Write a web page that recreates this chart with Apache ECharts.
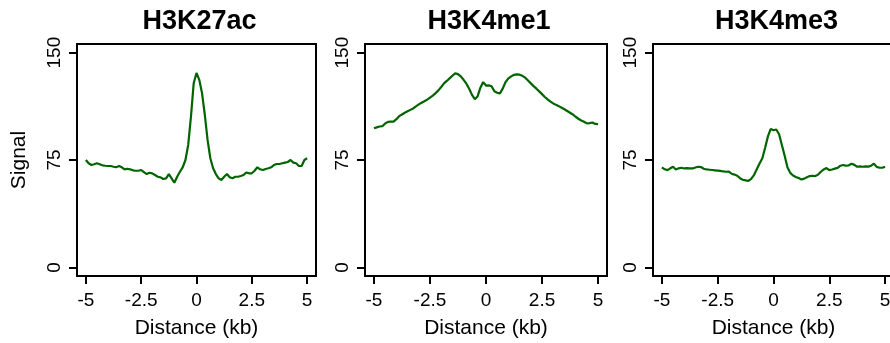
<!DOCTYPE html>
<html>
<head>
<meta charset="utf-8">
<script src="https://cdn.jsdelivr.net/npm/echarts@6/dist/echarts.min.js"></script>
<style>
  html, body { margin: 0; padding: 0; background: #fff; }
  #chart { width: 890px; height: 343px; }
</style>
</head>
<body>
<div id="chart"></div>
<script>
// distance from centre, kb
var distance = [
  -5, -4.875, -4.75, -4.625, -4.5, -4.375, -4.25, -4.125, -4, -3.875,
  -3.75, -3.625, -3.5, -3.375, -3.25, -3.125, -3, -2.875, -2.75, -2.625,
  -2.5, -2.375, -2.25, -2.125, -2, -1.875, -1.75, -1.625, -1.5, -1.375,
  -1.25, -1.125, -1, -0.875, -0.75, -0.625, -0.5, -0.375, -0.25, -0.125,
  0, 0.125, 0.25, 0.375, 0.5, 0.625, 0.75, 0.875, 1, 1.125,
  1.25, 1.375, 1.5, 1.625, 1.75, 1.875, 2, 2.125, 2.25, 2.375,
  2.5, 2.625, 2.75, 2.875, 3, 3.125, 3.25, 3.375, 3.5, 3.625,
  3.75, 3.875, 4, 4.125, 4.25, 4.375, 4.5, 4.625, 4.75, 4.875,
  5
];

var h3k27ac = [
  75, 72.7, 71.5, 72, 72.7, 72, 71.3, 71, 70.8, 70.8,
  70.3, 70, 70.8, 69.9, 68.5, 68.9, 68.5, 67.8, 67.5, 67.5,
  68, 66.6, 65.2, 66.1, 65.7, 64.5, 63.3, 62.9, 61.7, 62.2,
  65.2, 62.2, 59.1, 63.3, 66.8, 69.9, 75, 85.5, 105.4, 128.8,
  135.8, 131, 121.7, 106.6, 89, 76.2, 69.2, 65.2, 62.2, 61,
  63.3, 65.2, 62.9, 62.2, 63.3, 63.3, 63.8, 64.5, 66.3, 65.7,
  65.7, 67.5, 69.9, 68.5, 68, 68.7, 69.2, 69.9, 71.5, 72.2,
  72.2, 72.7, 73.2, 73.6, 75, 73.2, 72.7, 70.8, 70.8, 75,
  76.2
];

var h3k4me1 = [
  97.2, 97.8, 98.4, 98.6, 100.5, 101.6, 101.8, 101.8, 103.5, 105.6,
  106.8, 108, 109, 110, 111, 112.5, 113.8, 115, 116, 117.2,
  118.6, 120, 121.7, 123.6, 126, 128.5, 130.2, 132, 133.8, 135.5,
  135, 133.4, 131, 128.3, 124.8, 120.5, 117.5, 119.4, 125.5, 129.4,
  127, 127.1, 126.5, 123, 122, 121.5, 125, 129.5, 132, 133.4,
  134.5, 134.8, 134.6, 133.8, 132.5, 130.5, 128.5, 126.6, 124.8, 122.9,
  121, 119, 117.3, 115.8, 114.5, 113.5, 112.6, 111.5, 110.4, 109.2,
  108, 106.8, 105.2, 103.8, 102.6, 101.7, 100.6, 100.8, 101.2, 100.2,
  100
];

var h3k4me3 = [
  69.9, 68.5, 67.9, 69.2, 70.3, 68.4, 69.2, 69.6, 69.1, 69.3,
  69.2, 69.1, 69.8, 70.3, 70.1, 68.9, 68.4, 68.2, 68, 67.8,
  67.6, 67.4, 67, 66.8, 66.9, 65.4, 64.8, 64, 62.3, 61.2,
  60.8, 60.4, 61.8, 64.5, 68.5, 72.5, 76.2, 83.5, 91.5, 96.7,
  95.8, 96.3, 93, 85.5, 78, 70, 66, 64.2, 63.2, 62.4,
  61.4, 62, 63, 63.8, 64, 63.8, 64.8, 66.8, 68.4, 69.4,
  67.9, 68.4, 69, 69.5, 71, 71.5, 71, 71.3, 72.4, 71.6,
  70.3, 70.6, 70.3, 70.5, 70.4, 71, 72.4, 70.2, 69.6, 69.6,
  70.3
];

var panelTitles = ['H3K27ac', 'H3K4me1', 'H3K4me3'];
var xTicks = [-5, -2.5, 0, 2.5, 5];
var yTicks = [0, 75, 150];

var font = '"Liberation Sans", Arial, Helvetica, sans-serif';
var lineColor = '#006400';

var panels = [
  { left: 77, width: 239, values: h3k27ac },
  { left: 365, width: 242, values: h3k4me1 },
  { left: 653, width: 241, values: h3k4me3 }
];

function pairs(values) {
  return distance.map(function (d, i) { return [d, values[i]]; });
}

var grids = [], xAxes = [], yAxes = [], series = [], graphics = [];

panels.forEach(function (p, k) {
  grids.push({
    left: p.left, top: 44, width: p.width, height: 232,
    show: true, borderColor: '#000', borderWidth: 2, backgroundColor: 'transparent',
    containLabel: false, outerBoundsMode: 'none'
  });
  xAxes.push({
    type: 'value', gridIndex: k, min: -5.4, max: 5.4, position: 'bottom',
    name: 'Distance (kb)', nameLocation: 'middle', nameGap: 42,
    nameTextStyle: { fontSize: 21, color: '#000', fontFamily: font },
    axisLine: { show: false, onZero: false },
    splitLine: { show: false },
    axisTick: { show: true, length: 8, customValues: xTicks, lineStyle: { color: '#000', width: 2 } },
    axisLabel: { customValues: xTicks, fontSize: 19, color: '#000', fontFamily: font, margin: 15 }
  });
  yAxes.push({
    type: 'value', gridIndex: k, min: -6, max: 156, position: 'left',
    name: k === 0 ? 'Signal' : '', nameLocation: 'middle', nameGap: 47,
    nameTextStyle: { fontSize: 21, color: '#000', fontFamily: font },
    axisLine: { show: false, onZero: false },
    splitLine: { show: false },
    axisTick: { show: true, length: 8, customValues: yTicks, lineStyle: { color: '#000', width: 2 } },
    axisLabel: { customValues: yTicks, rotate: 90, fontSize: 19, color: '#000', fontFamily: font, margin: 13 }
  });
  series.push({
    type: 'line', xAxisIndex: k, yAxisIndex: k,
    data: pairs(p.values),
    showSymbol: false, smooth: false,
    lineStyle: { color: lineColor, width: 2.2 }
  });
  graphics.push({
    type: 'text',
    x: p.left + p.width / 2 + 3, y: 22,
    style: {
      text: panelTitles[k], fill: '#000',
      font: 'bold 27px ' + font,
      textAlign: 'center', textVerticalAlign: 'middle'
    }
  });
});

var chart = echarts.init(document.getElementById('chart'));
chart.setOption({
  animation: false,
  grid: grids,
  xAxis: xAxes,
  yAxis: yAxes,
  series: series,
  graphic: graphics
});
window.onresize = chart.resize;
</script>
</body>
</html>
